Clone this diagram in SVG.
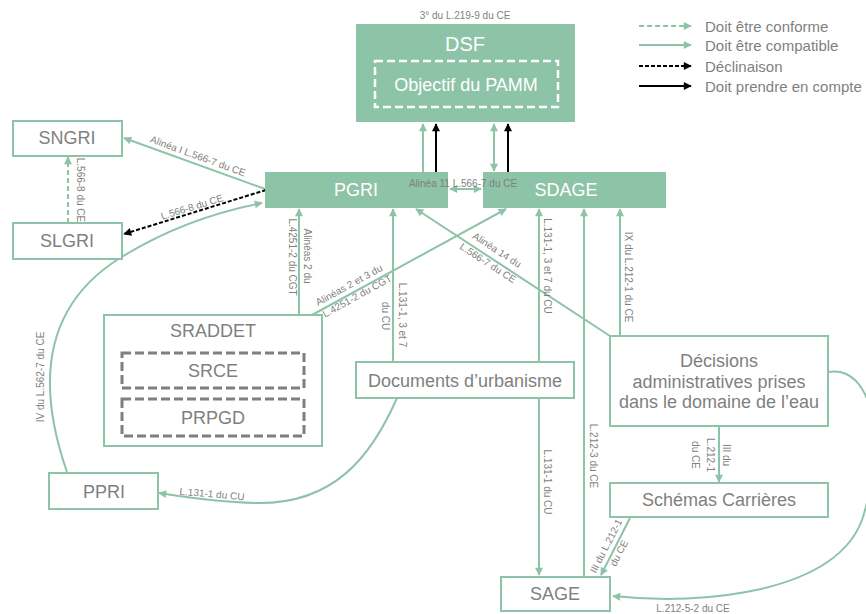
<svg xmlns="http://www.w3.org/2000/svg" width="866" height="614" viewBox="0 0 866 614">
<style>
.box{fill:#ffffff;stroke:#8DC4A8;stroke-width:2}
.fbox{fill:#8DC4A8;stroke:none}
.dash{fill:none;stroke:#7F7F7F;stroke-width:3;stroke-dasharray:9 4}
.nt{font-family:"Liberation Sans",Arial,sans-serif;font-size:18px;fill:#7F7F7F;text-anchor:middle;dominant-baseline:central}
.wt{font-family:"Liberation Sans",Arial,sans-serif;font-size:18px;fill:#ffffff;text-anchor:middle;dominant-baseline:central}
.lb{font-family:"Liberation Sans",Arial,sans-serif;font-size:10px;fill:#7F7F7F;text-anchor:middle}
.lg{font-family:"Liberation Sans",Arial,sans-serif;font-size:15px;fill:#7F7F7F;dominant-baseline:central}
.g{fill:none;stroke:#8DC4A8;stroke-width:2;marker-end:url(#ag)}
.gd{fill:none;stroke:#8DC4A8;stroke-width:2;stroke-dasharray:5 3;marker-end:url(#ag)}
.k{fill:none;stroke:#000000;stroke-width:2;marker-end:url(#ak)}
.kd{fill:none;stroke:#000000;stroke-width:2;stroke-dasharray:4 2;marker-end:url(#ak)}
.both{marker-start:url(#ag)}
</style>
<defs>
<marker id="ag" viewBox="0 0 10 10" refX="9" refY="5" markerUnits="userSpaceOnUse" markerWidth="9" markerHeight="8" orient="auto-start-reverse"><path d="M0,0 L10,5 L0,10 z" fill="#8DC4A8"/></marker>
<marker id="ak" viewBox="0 0 10 10" refX="9" refY="5" markerUnits="userSpaceOnUse" markerWidth="9" markerHeight="8" orient="auto-start-reverse"><path d="M0,0 L10,5 L0,10 z" fill="#000000"/></marker>
</defs>
<rect width="866" height="614" fill="#ffffff"/>

<g id="legend">
<line x1="639" y1="26" x2="691" y2="26" class="gd"/>
<line x1="639" y1="45" x2="691" y2="45" class="g"/>
<line x1="639" y1="66" x2="691" y2="66" class="kd"/>
<line x1="639" y1="86" x2="691" y2="86" class="k"/>
<text x="705" y="26" class="lg">Doit être conforme</text>
<text x="705" y="45" class="lg">Doit être compatible</text>
<text x="705" y="66" class="lg">Déclinaison</text>
<text x="705" y="86" class="lg">Doit prendre en compte</text>
</g>

<g id="connectors">
<path d="M423 172 V124" class="g"/>
<path d="M436 172 V124" class="k"/>
<path d="M494 124 V171" class="g both"/>
<path d="M508 172 V124" class="k"/>
<path d="M450 189 H481" class="g both"/>
<path d="M265 189 L124 138" class="g"/>
<path d="M266 190 L124 234" class="kd"/>
<path d="M68 223 V157" class="gd"/>
<path d="M67 472 C35 380, 45 305, 120 258 C165 230, 215 212, 262 203" class="g"/>
<path d="M299 315 V209" class="g"/>
<path d="M312 315 L506 209" class="g"/>
<path d="M393 362 V209" class="g"/>
<path d="M539 362 V209" class="g"/>
<path d="M610 336 L416 209" class="g"/>
<path d="M584 578 V209" class="g"/>
<path d="M620 336 V209" class="g"/>
<path d="M539 398 V575" class="g"/>
<path d="M397 398 C372 455, 335 505, 255 503 C215 502, 185 497, 159 493" class="g"/>
<path d="M719 426 V482" class="g"/>
<path d="M630 518 L601 575" class="g"/>
<path d="M828 372 C872 364, 888 440, 862 520 C835 592, 705 606, 613 596" class="g"/>
</g>

<g id="DSF">
<rect x="356" y="24" width="219" height="98" class="fbox"/>
<text x="465" y="44" class="wt" style="font-size:20px">DSF</text>
<rect x="375" y="61" width="183" height="46" fill="none" stroke="#ffffff" stroke-width="2.5" stroke-dasharray="8 4"/>
<text x="466" y="85" class="wt">Objectif du PAMM</text>
</g>
<g id="PGRI">
<rect x="265" y="172" width="183" height="36" class="fbox"/>
<text x="356" y="190" class="wt">PGRI</text>
</g>
<g id="SDAGE">
<rect x="483" y="172" width="183" height="36" class="fbox"/>
<text x="566" y="190" class="wt">SDAGE</text>
</g>
<g id="SNGRI">
<rect x="13" y="121" width="109" height="35" class="box"/>
<text x="67" y="138" class="nt">SNGRI</text>
</g>
<g id="SLGRI">
<rect x="13" y="223" width="109" height="36" class="box"/>
<text x="67" y="241" class="nt">SLGRI</text>
</g>
<g id="SRADDET">
<rect x="104" y="315" width="218" height="131" class="box"/>
<text x="213" y="331" class="nt">SRADDET</text>
<rect x="122" y="353" width="182" height="35" class="dash"/>
<text x="213" y="371" class="nt">SRCE</text>
<rect x="122" y="399" width="182" height="37" class="dash"/>
<text x="213" y="418" class="nt">PRPGD</text>
</g>
<g id="Documents">
<rect x="356" y="362" width="218" height="36" class="box"/>
<text x="465" y="381" class="nt">Documents d’urbanisme</text>
</g>
<g id="PPRI">
<rect x="49" y="473" width="109" height="36" class="box"/>
<text x="104" y="492" class="nt">PPRI</text>
</g>
<g id="Decisions">
<rect x="610" y="336" width="218" height="90" class="box"/>
<text x="719" y="361" class="nt">Décisions</text>
<text x="719" y="382" class="nt">administratives prises</text>
<text x="719" y="402" class="nt">dans le domaine de l’eau</text>
</g>
<g id="Schemas">
<rect x="610" y="483" width="218" height="34" class="box"/>
<text x="719" y="500" class="nt">Schémas Carrières</text>
</g>
<g id="SAGE">
<rect x="501" y="577" width="109" height="34" class="box"/>
<text x="555" y="594" class="nt">SAGE</text>
</g>

<g id="connector-labels">
<text class="lb" transform="translate(465,15)" dy="0.35em">3° du L.219-9 du CE</text>
<text class="lb" transform="translate(463,183)" dy="0.35em">Alinéa 11 L.566-7 du CE</text>
<text class="lb" transform="translate(198,156) rotate(20)" dy="0.35em">Alinéa I L.566-7 du CE</text>
<text class="lb" transform="translate(192,207) rotate(-17)" dy="0.35em">L.566-8 du CE</text>
<text class="lb" transform="translate(80,190) rotate(90)" dy="0.35em">L.566-8 du CE</text>
<text class="lb" transform="translate(40,377) rotate(-90)" dy="0.35em">IV du L.562-7 du CE</text>
<text class="lb" transform="translate(307,256) rotate(90)" dy="0.35em">Alinéas 2 du</text>
<text class="lb" transform="translate(292,257) rotate(90)" dy="0.35em">L.4251-2 du CGT</text>
<text class="lb" transform="translate(349,285) rotate(-29)" dy="0.35em">Alinéas 2 et 3 du</text>
<text class="lb" transform="translate(357,296) rotate(-29)" dy="0.35em">L.4251-2 du CGT</text>
<text class="lb" transform="translate(402,315) rotate(90)" dy="0.35em">L.131-1, 3 et 7</text>
<text class="lb" transform="translate(385,316) rotate(90)" dy="0.35em">du CU</text>
<text class="lb" transform="translate(497,250) rotate(33)" dy="0.35em">Alinéa 14 du</text>
<text class="lb" transform="translate(488,263) rotate(33)" dy="0.35em">L.566-7 du CE</text>
<text class="lb" transform="translate(547,266) rotate(90)" dy="0.35em">L.131-1, 3 et 7 du CU</text>
<text class="lb" transform="translate(628,277) rotate(90)" dy="0.35em">IX du L.212-1 du CE</text>
<text class="lb" transform="translate(547,482) rotate(90)" dy="0.35em">L.131-1 du CU</text>
<text class="lb" transform="translate(593,456) rotate(90)" dy="0.35em">L.212-3 du CE</text>
<text class="lb" transform="translate(726,455) rotate(90)" dy="0.35em">III du</text>
<text class="lb" transform="translate(710,455) rotate(90)" dy="0.35em">L.212-1</text>
<text class="lb" transform="translate(695,455) rotate(90)" dy="0.35em">du CE</text>
<text class="lb" transform="translate(606,546) rotate(-63)" dy="0.35em">III du L.212-1</text>
<text class="lb" transform="translate(619,553) rotate(-63)" dy="0.35em">du CE</text>
<text class="lb" transform="translate(212,494) rotate(5)" dy="0.35em">L.131-1 du CU</text>
<text class="lb" transform="translate(693,608)" dy="0.35em">L.212-5-2 du CE</text>
</g>
</svg>
